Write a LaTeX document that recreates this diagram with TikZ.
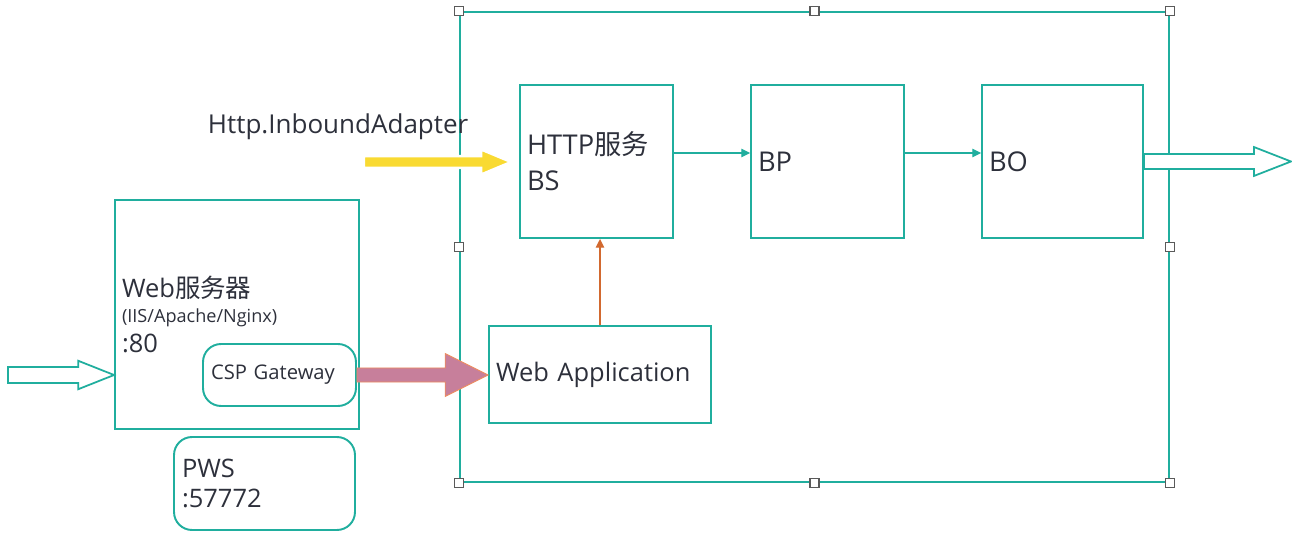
\documentclass[tikz,border=0pt]{standalone}
\usepackage{fontspec}
\setmainfont{Open Sans}
\newfontfamily\cjk{Noto Sans CJK SC}
\usetikzlibrary{arrows.meta, calc}
\definecolor{cteal}{HTML}{20AE9E}
\definecolor{ctext}{HTML}{2D303B}
\definecolor{corange}{HTML}{D2692F}
\definecolor{cpink}{HTML}{C77F9B}
\definecolor{cpinkedge}{HTML}{EE8C5E}
\definecolor{cyellow}{HTML}{F9DA32}
\definecolor{cgrey}{HTML}{5A5A5A}
\tikzset{
  every picture/.style={line width=1.1pt},
  box/.style={draw=cteal, text=ctext, align=left, inner xsep=0.14cm, inner ysep=0pt},
  rbox/.style={box, rounded corners=0.36cm},
  huge/.style={font=\fontsize{15.5}{20.5}\selectfont},
  big/.style={font=\fontsize{14.5}{17}\selectfont},
  handle/.style={draw=cgrey, fill=white, line width=0.6pt, minimum size=0.18cm, inner sep=0pt},
  link/.style={-{Triangle[length=5pt, width=4.8pt]}, draw=cteal, line width=0.7pt},
  feed/.style={-{Triangle[length=5pt, width=4.8pt]}, draw=corange, line width=0.8pt},
  hollow/.style={draw=cteal, fill=white, line width=1pt},
}
% horizontal block arrow: style, from, to, shaft half, head half, head length
\newcommand{\fatarrow}[6]{%
  \path[#1] let \p1=(#2), \p2=(#3) in
    (\x1,\y1+#4) -- (\x2-#6,\y1+#4) -- (\x2-#6,\y1+#5) -- (\x2,\y1)
    -- (\x2-#6,\y1-#5) -- (\x2-#6,\y1-#4) -- (\x1,\y1-#4) -- cycle;}

\begin{document}
\begin{tikzpicture}[x=0.02cm, y=-0.02cm]
  \useasboundingbox (0,0) rectangle (1292,533);
  % production
  \node[draw=cteal, minimum width=14.18cm, minimum height=9.4cm] (sys) at (814.5,247) {};
  \node[box, huge, minimum width=3.06cm, minimum height=3.06cm, text width=2.78cm] (http) at (596.5,161.5) {HTTP{\cjk 服务}\\BS};
  \node[box, huge, minimum width=3.06cm, minimum height=3.06cm, text width=2.78cm] (bp) at (827.5,161.5) {BP};
  \node[box, huge, minimum width=3.22cm, minimum height=3.06cm, text width=2.94cm] (bo) at (1062.5,161.5) {BO};
  \node[box, big, minimum width=4.44cm, minimum height=1.94cm, text width=4.16cm] (app) at (600,374.5) {Web Application};
  \draw[link] ([yshift=0.17cm]http.east) -- ([yshift=0.17cm]bp.west);
  \draw[link] ([yshift=0.17cm]bp.east) -- ([yshift=0.17cm]bo.west);
  \draw[feed] (app.north) -- (app.north |- http.south);
  % web server side
  \node[box, big, minimum width=4.88cm, minimum height=4.58cm, text width=4.6cm] (web) at (237,314.5)
    {Web{\cjk 服务器}\\[-2.5pt]
     {\fontsize{10.3}{12}\selectfont (IIS/Apache/Nginx)}\\
     :80};
  \node[rbox, font=\fontsize{11.5}{15}\selectfont, inner xsep=0.16cm, minimum width=3.06cm, minimum height=1.24cm, text width=2.74cm] (csp) at (279.5,375) {CSP Gateway};
  \node[rbox, big, inner xsep=0.16cm, minimum width=3.62cm, minimum height=1.86cm, text width=3.3cm] (pws) at (264.5,483.5) {PWS\\:57772};
  % flows
  \node[text=ctext, font=\fontsize{14.8}{17}\selectfont, anchor=west, inner sep=0pt] (adlabel) at (207,127) {Http.InboundAdapter};
  \coordinate (adin) at (364,162);
  \coordinate (in) at (8,375);
  \coordinate (out) at (1291,162);
  \fatarrow{fill=cyellow, draw=white, line width=1.4pt}{adin}{[xshift=-0.16cm]http.west}{3.4pt}{7.1pt}{17pt}
  \fatarrow{fill=cpink, draw=cpinkedge, line width=0.5pt}{csp.east}{app.west}{4pt}{12.2pt}{24.4pt}
  \fatarrow{hollow}{in}{web.west |- in}{4.5pt}{8.1pt}{20.4pt}
  \fatarrow{hollow}{bo.east}{out}{4.25pt}{8.2pt}{21pt}
  % resize handles
  \foreach \a [count=\i] in {north west, north, north east, east, south east, south, south west, west}
    \node[handle] (h\i) at (sys.\a) {};
\end{tikzpicture}
\end{document}
